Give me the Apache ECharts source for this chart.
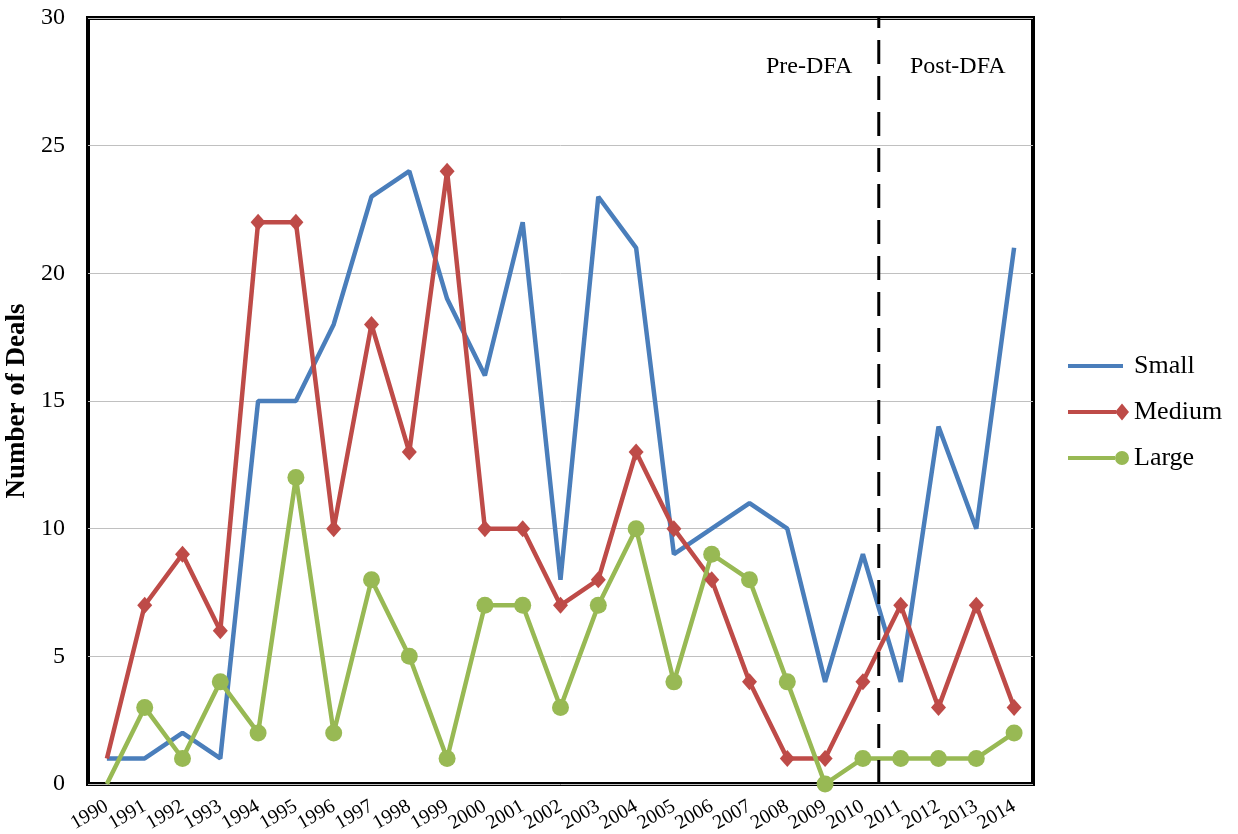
<!DOCTYPE html>
<html>
<head>
<meta charset="utf-8">
<script src="https://cdn.jsdelivr.net/npm/echarts@6/dist/echarts.min.js"></script>
<style>
  html, body { margin: 0; padding: 0; background: #fff; }
  #chart { width: 1238px; height: 834px; }
</style>
</head>
<body>
<div id="chart"></div>
<script>
const years = ['1990', '1991', '1992', '1993', '1994', '1995', '1996', '1997', '1998', '1999', '2000', '2001', '2002',
  '2003', '2004', '2005', '2006', '2007', '2008', '2009', '2010', '2011', '2012', '2013', '2014']
const small = [1, 1, 2, 1, 15, 15, 18, 23, 24, 19, 16, 22, 8, 23, 21, 9, 10, 11, 10, 4, 9, 4, 14, 10, 21]
const medium = [1, 7, 9, 6, 22, 22, 10, 18, 13, 24, 10, 10, 7, 8, 13, 10, 8, 4, 1, 1, 4, 7, 3, 7, 3]
const large = [0, 3, 1, 4, 2, 12, 2, 8, 5, 1, 7, 7, 3, 7, 10, 4, 9, 8, 4, 0, 1, 1, 1, 1, 2]
const dfaBreak = 20.92  // between 2010 and 2011 on the hidden 0..25 axis

const serif = '"Liberation Serif", "DejaVu Serif", serif'
const colors = { small: '#4a7ebb', medium: '#be4b48', large: '#98b954' }

// legend icons: line with the marker at its right end (box 62x18)
const box = 'M0,0 L0.01,0 Z M62,18 L61.99,18 Z '
const iconSmall = 'path://' + box + 'M1,7 L56,7 L56,11 L1,11 Z'
const iconMedium = 'path://' + box + 'M1,7 L49,7 L49,11 L1,11 Z M55,0.5 L62,9 L55,17.5 L48,9 Z'
const iconLarge = 'path://' + box + 'M1,7 L48,7 L48,11 L1,11 Z M48,9 A7,7 0 1,1 62,9 A7,7 0 1,1 48,9 Z'

// first point of medium / large has no marker in the original
function noFirstMarker(arr) {
  return arr.map((v, i) => i === 0 ? { value: v, symbol: 'none' } : v)
}

const chart = echarts.init(document.getElementById('chart'))

chart.setOption({
  animation: false,
  textStyle: { fontFamily: serif },
  grid: {
    left: 88, top: 18, width: 945, height: 766,
    outerBoundsMode: 'none', containLabel: false,
    show: true, borderColor: '#000', borderWidth: 4, backgroundColor: 'transparent'
  },
  legend: {
    orient: 'vertical',
    left: 1067,
    top: 353,
    padding: 0,
    itemWidth: 62,
    itemHeight: 18,
    itemGap: 20,
    textStyle: { fontSize: 26, color: '#000', fontFamily: serif },
    data: [
      { name: 'Small', icon: iconSmall, itemStyle: { color: colors.small } },
      { name: 'Medium', icon: iconMedium, itemStyle: { color: colors.medium } },
      { name: 'Large', icon: iconLarge, itemStyle: { color: colors.large } }
    ]
  },
  xAxis: [
    {
      type: 'category',
      data: years,
      boundaryGap: true,
      axisLine: { show: false },
      axisTick: { show: false },
      axisLabel: { rotate: 30, fontSize: 20, color: '#000', fontFamily: serif, margin: 21, interval: 0 }
    },
    { type: 'value', min: 0, max: 25, show: false }
  ],
  yAxis: {
    type: 'value',
    min: 0,
    max: 30,
    interval: 5,
    name: 'Number of Deals',
    nameLocation: 'middle',
    nameGap: 53,
    nameTextStyle: { fontSize: 27, fontWeight: 'bold', color: '#000', fontFamily: serif },
    axisLine: { show: false },
    axisTick: { show: false },
    axisLabel: { fontSize: 24, color: '#000', fontFamily: serif, margin: 23 },
    splitLine: { lineStyle: { color: '#c0c0c0', width: 1 } }
  },
  graphic: [
    { type: 'text', left: 766, top: 55, style: { text: 'Pre-DFA', font: '24px ' + serif, fill: '#000' } },
    { type: 'text', left: 910, top: 55, style: { text: 'Post-DFA', font: '24px ' + serif, fill: '#000' } }
  ],
  series: [
    {
      name: 'Small', type: 'line', data: small,
      symbol: 'none', lineStyle: { color: colors.small, width: 4.5 }, itemStyle: { color: colors.small }
    },
    {
      name: 'Medium', type: 'line', data: noFirstMarker(medium),
      symbol: 'diamond', symbolSize: [15, 17],
      lineStyle: { color: colors.medium, width: 4.5 }, itemStyle: { color: colors.medium }
    },
    {
      name: 'Large', type: 'line', data: noFirstMarker(large),
      symbol: 'circle', symbolSize: 17,
      lineStyle: { color: colors.large, width: 4.5 }, itemStyle: { color: colors.large }
    },
    {
      type: 'line', xAxisIndex: 1, data: [[dfaBreak, 0], [dfaBreak, 30]],
      symbol: 'none', silent: true, z: 5,
      lineStyle: { color: '#000', width: 3, type: [24, 12] }
    }
  ]
})
</script>
</body>
</html>
